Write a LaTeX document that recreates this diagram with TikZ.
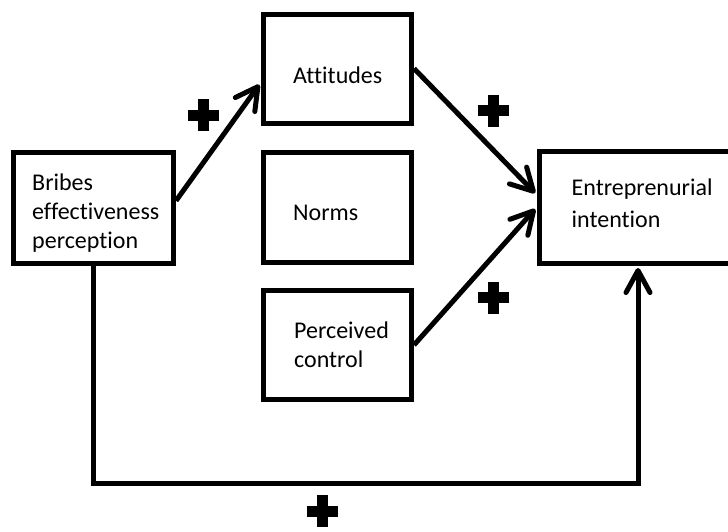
\documentclass[tikz,border=0pt]{standalone}
\usepackage{fontspec}
\setmainfont{Carlito}[Ligatures=NoCommon]
\usetikzlibrary{arrows.meta}

\begin{document}
\begin{tikzpicture}[x=1pt,y=-1pt]
  \tikzstyle{every node}=[inner sep=0]
  \tikzstyle{box}=[draw,rectangle,line width=5pt,minimum width=148.5,minimum height=110]
  \tikzstyle{txt}=[anchor=base west,align=left,text width=170,font=\fontsize{24}{29.3}\selectfont]
  \tikzstyle{arr}=[line width=5pt,-{Straight Barb[length=22pt,width=24pt,round]},shorten >=2pt]
  \tikzstyle{plus}=[minimum width=34,minimum height=34,
    path picture={
      \fill (path picture bounding box.center) ++(-15.5,-5.5) rectangle ++(31,11);
      \fill (path picture bounding box.center) ++(-5.5,-16) rectangle ++(11,32);}]
  \useasboundingbox (0,0) rectangle (728,531);
  \clip (0,0) rectangle (728,531);
  {
    % boxes
    \node[box,minimum width=160,minimum height=110.5] (bribes) at (93.5,207.75) {};
    \node[box,minimum height=109] (att) at (337.25,68.5) {};
    \node[box] (norms) at (337.25,207.5) {};
    \node[box,minimum height=109] (perc) at (337.25,345) {};
    \node[box,minimum width=198,minimum height=112] (ent) at (638,207.5) {};

    % texts
    \node[txt] (tbribes) at (32,190) {Bribes\\effectiveness\\perception};
    \node[txt] (tatt) at (293,83) {Attitudes};
    \node[txt] (tnorms) at (293,220) {Norms};
    \node[txt] (tperc) at (294,338) {Perceived\\control};
    \node[txt] (tent) at (571.5,195) {Entreprenurial\\[2.7pt]intention};

    % links
    \path[arr]
      ([yshift=7pt]bribes.east) edge ([yshift=-14.5pt]att.west)
      (att.east) edge ([yshift=13pt]ent.west)
      (perc.east) edge (ent.west);
    \coordinate (bend) at (0,483);
    \draw[arr] (bribes.south) -- (bribes.south |- bend) -| (ent.south);

    % signs
    \node[plus] (p1) at (203.5,115.3) {};
    \node[plus] (p2) at (493.5,110.5) {};
    \node[plus] (p3) at (493.5,297.7) {};
    \node[plus] (p4) at (322,511) {};
  }
\end{tikzpicture}
\end{document}
